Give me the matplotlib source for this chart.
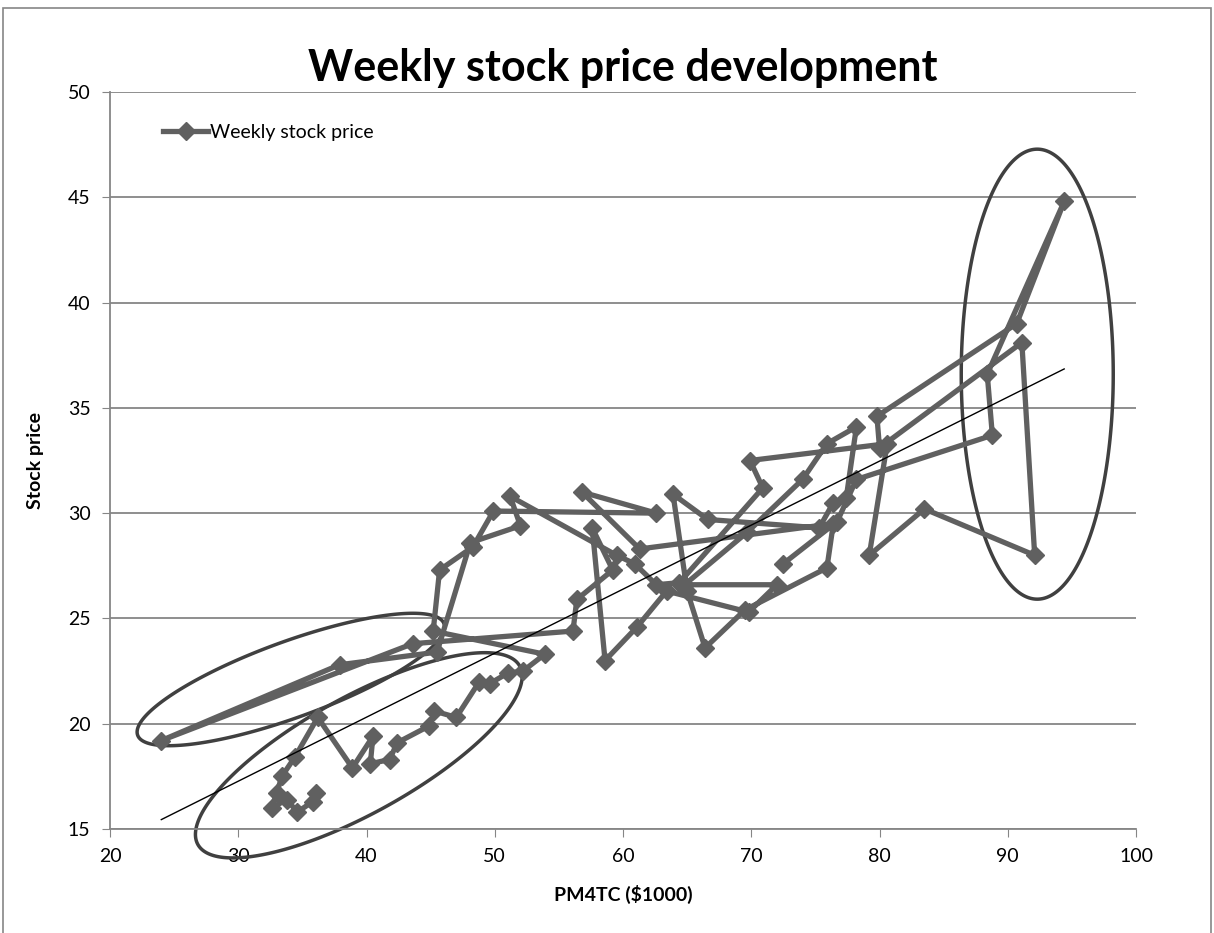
import numpy as np
import matplotlib.pyplot as plt

# weekly PM4TC values ($1000) and stock prices, in week order
pm4tc = [36.1, 35.8, 34.6, 33.8, 32.6, 33.0, 33.4, 34.4, 36.2, 38.9,
         40.5, 40.3, 41.8, 42.4, 44.9, 45.3, 47.0, 48.8, 49.6, 51.0,
         52.2, 53.9, 45.2, 45.7, 48.3, 49.9, 62.6, 56.8, 61.3, 76.4,
         75.9, 69.5, 66.4, 65.0, 63.9, 66.6, 75.3, 76.4, 77.4, 78.2,
         75.9, 74.0, 69.7, 64.8, 72.0, 69.8, 63.4, 61.1, 58.6, 57.6,
         59.2, 56.4, 56.1, 43.6, 24.0, 37.9, 45.5, 48.1, 52.0, 51.2,
         59.5, 60.9, 62.6, 64.4, 70.9, 69.9, 80.6, 79.2, 83.5, 92.1,
         91.1, 80.0, 79.8, 90.7, 94.4, 88.4, 88.8, 78.2, 76.7, 72.5]
price = [16.7, 16.3, 15.8, 16.4, 16.0, 16.7, 17.5, 18.4, 20.3, 17.9,
         19.4, 18.1, 18.3, 19.1, 19.9, 20.6, 20.3, 22.0, 21.9, 22.4,
         22.5, 23.3, 24.4, 27.3, 28.4, 30.1, 30.0, 31.0, 28.3, 29.5,
         27.4, 25.4, 23.6, 26.3, 30.9, 29.7, 29.3, 30.5, 30.7, 34.1,
         33.3, 31.6, 29.1, 26.6, 26.6, 25.3, 26.3, 24.6, 23.0, 29.3,
         27.3, 25.9, 24.4, 23.8, 19.2, 22.8, 23.4, 28.6, 29.4, 30.8,
         28.0, 27.6, 26.6, 26.7, 31.2, 32.5, 33.3, 28.0, 30.2, 28.0,
         38.1, 33.1, 34.6, 39.0, 44.8, 36.6, 33.7, 31.6, 29.6, 27.6]

# linear trend
trend_slope = 0.304
trend_icpt = 8.15

# highlighted regions: centre (data), half axes (pixels), angle (deg)
ellipses = [((34.1, 22.1), 163, 38, 20),
             ((39.4, 18.5), 184, 58, 29),
             ((92.3, 36.6), 76, 225, 0)]

x_ticks = [20, 30, 40, 50, 60, 70, 80, 90, 100]
y_ticks = [15, 20, 25, 30, 35, 40, 45, 50]

plt.rcParams['font.family'] = ['Lato', 'DejaVu Sans']

fig = plt.figure(figsize=(12.14, 9.33), dpi=100)
ax = fig.add_axes([110/1214, 1-829/933, 1026/1214, 737/933])

# outer chart frame
fig.patches.append(plt.Rectangle((3/1214, -0.01), 1208/1214, 1-8/933+0.01,
                                 transform=fig.transFigure, fill=False,
                                 edgecolor='#868686', linewidth=1.2))

ax.set_xlim(20, 100)
ax.set_ylim(15, 50)
ax.set_xticks(x_ticks)
ax.set_yticks(y_ticks)
ax.yaxis.grid(True, color='#868686', linewidth=1.3)
ax.set_axisbelow(True)
for s in ['top', 'right']:
    ax.spines[s].set_visible(False)
for s in ['left', 'bottom']:
    ax.spines[s].set_color('#868686')
    ax.spines[s].set_linewidth(1.3)
ax.tick_params(length=6, color='#868686', labelsize=14, pad=8)

ax.plot(pm4tc, price, color='#606060', linewidth=3.8, marker='D',
        markersize=9, label='Weekly stock price', solid_joinstyle='round')

tx = np.array([min(pm4tc), max(pm4tc)])
ax.plot(tx, trend_slope*tx + trend_icpt, color='black', linewidth=1)

# ellipses drawn in pixel space so they are not skewed by the axis scales
fig.canvas.draw()
ppx = ax.transData.transform((1, 0))[0] - ax.transData.transform((0, 0))[0]
ppy = ax.transData.transform((0, 1))[1] - ax.transData.transform((0, 0))[1]
t = np.linspace(0, 2*np.pi, 300, endpoint=False)
for (cx, cy), a, b, ang in ellipses:
    r = np.radians(ang)
    dx = a*np.cos(t)*np.cos(r) - b*np.sin(t)*np.sin(r)
    dy = a*np.cos(t)*np.sin(r) + b*np.sin(t)*np.cos(r)
    pts = np.column_stack([cx + dx/ppx, cy + dy/ppy])
    ax.add_patch(plt.Polygon(pts, closed=True, fill=False, edgecolor='#404040',
                             linewidth=2.5, clip_on=False))

ax.set_title('Weekly stock price development', fontsize=31, fontweight='bold', pad=8)
ax.set_xlabel('PM4TC ($1000)', fontsize=14, fontweight='bold', labelpad=14)
ax.set_ylabel('Stock price', fontsize=14, fontweight='bold', labelpad=17)
ax.legend(loc='upper left', frameon=False, fontsize=14, handlelength=2.3,
          handletextpad=0.1, bbox_to_anchor=(0.035, 0.98))

fig.savefig('out.png', dpi=100)
